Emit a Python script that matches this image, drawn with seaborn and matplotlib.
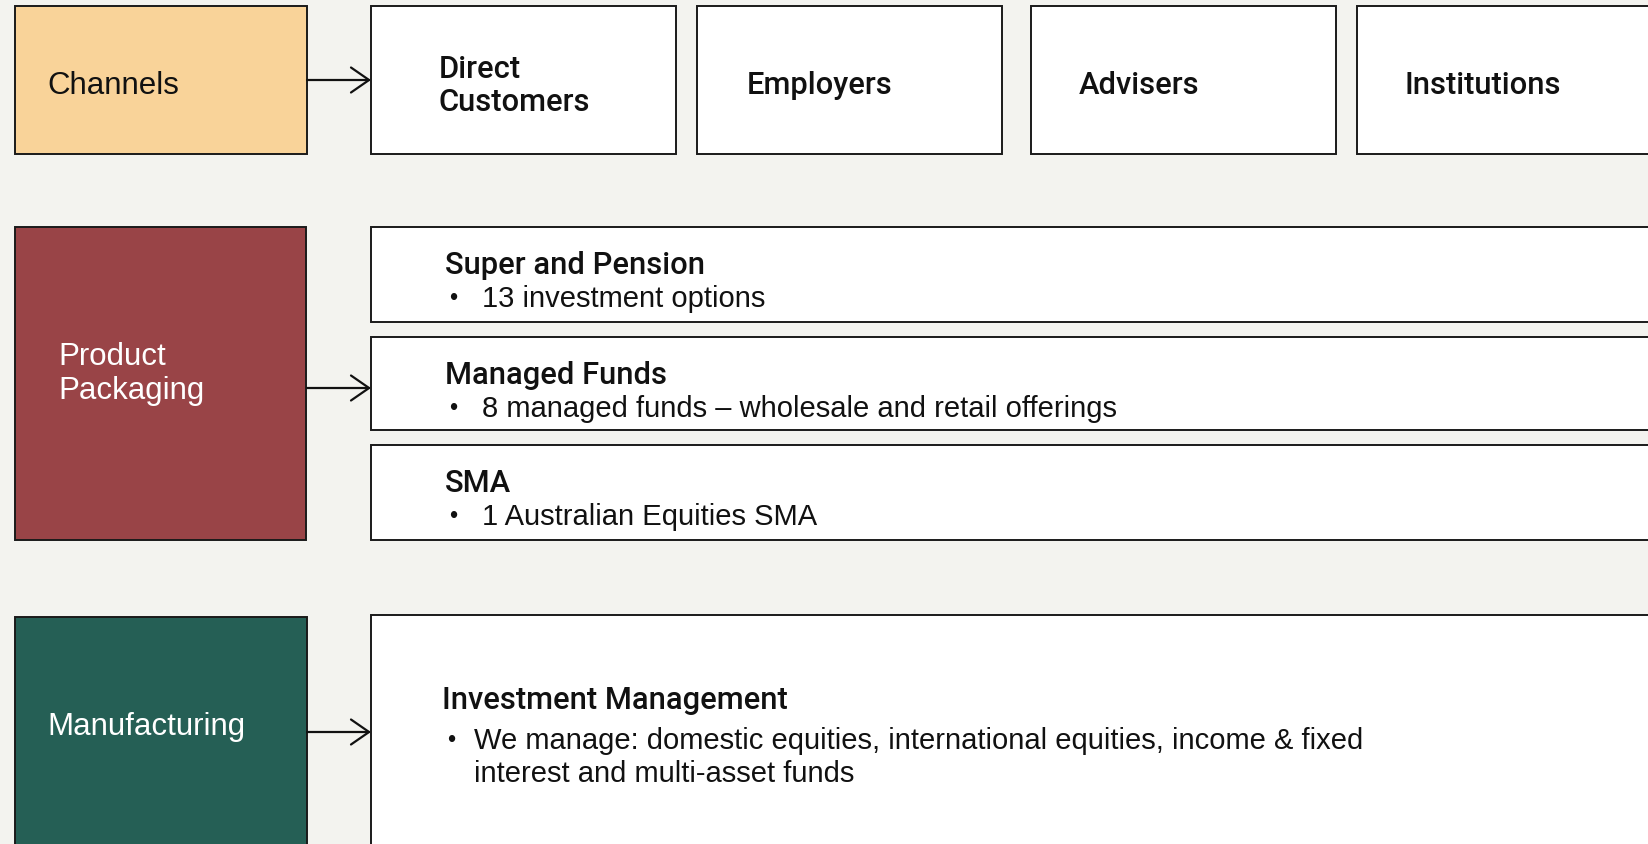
import matplotlib.pyplot as plt
from matplotlib.patches import Rectangle, FancyArrowPatch
import seaborn as sns

# labels of the diagram
stages = ["Channels", "Product\nPackaging", "Manufacturing"]
stage_colors = ["#F9D399", "#994447", "#255F55"]
stage_text_colors = ["#111111", "#FFFFFF", "#FFFFFF"]

channels = ["Direct\nCustomers", "Employers", "Advisers", "Institutions"]

products = ["Super and Pension", "Managed Funds", "SMA"]
product_points = ["13 investment options",
                  "8 managed funds \u2013 wholesale and retail offerings",
                  "1 Australian Equities SMA"]

manufacturing = "Investment Management"
manufacturing_lines = ["We manage: domestic equities, international equities, income & fixed",
                       "interest and multi-asset funds"]

# layout (pixels, y downward)
W, H = 1648, 845
stage_boxes = [(15, 7, 292, 148), (15, 228, 291, 313), (15, 618, 292, 240)]
channel_boxes = [(371, 7, 305, 148), (697, 7, 305, 148), (1031, 7, 305, 148), (1357, 7, 320, 148)]
channel_text_x = [439, 747, 1079, 1405]
product_boxes = [(371, 228, 1300, 95), (371, 338, 1300, 93), (371, 446, 1300, 95)]
manuf_box = (371, 616, 1300, 250)
arrow_y = [81, 389, 733]

sns.set_theme(style="white")
plt.rcParams['font.family'] = ['Liberation Sans', 'DejaVu Sans']

fig = plt.figure(figsize=(W / 100, H / 100), dpi=100, facecolor="#F3F3EF")
ax = fig.add_axes([0, 0, 1, 1])
ax.set_facecolor("#F3F3EF")
ax.set_xlim(0, W)
ax.set_ylim(H, 0)
ax.axis("off")

lw = 1.4
fs_stage = 22.5
fs_head = 22.2
fs_body = 21
head = dict(family=['Roboto', 'Liberation Sans', 'DejaVu Sans'], fontweight="medium")

def box(b, color="white"):
    x, y, w, h = b
    ax.add_patch(Rectangle((x, y), w, h, facecolor=color, edgecolor="#1a1a1a", lw=lw))

# left stage boxes
for b, c in zip(stage_boxes, stage_colors):
    box(b, c)
tx = [47, 58, 47]
ty = [86, 374, 727]
for lab, x, y, tc in zip(stages, tx, ty, stage_text_colors):
    ax.text(x, y, lab, color=tc, fontsize=fs_stage, va="center", ha="left", linespacing=1.15)

# arrows
for y in arrow_y:
    ax.add_patch(FancyArrowPatch((307, y), (371, y), arrowstyle="->,head_length=0.65,head_width=0.45",
                                 mutation_scale=20, lw=1.6, color="#111111", shrinkA=0, shrinkB=0))

# channels row
for b, lab, x in zip(channel_boxes, channels, channel_text_x):
    box(b)
    ax.text(x, b[1] + b[3] / 2 + 5, lab, fontsize=fs_head, va="center", ha="left",
            color="#111111", linespacing=1.15, **head)

# products
for b, title, pt in zip(product_boxes, products, product_points):
    box(b)
    y0 = b[1]
    ax.text(445, y0 + 38, title, fontsize=fs_head, va="center", ha="left", color="#111111", **head)
    ax.text(449, y0 + 71, "\u2022", fontsize=fs_body - 4, va="center", ha="left", color="#111111")
    ax.text(482, y0 + 71, pt, fontsize=fs_body, va="center", ha="left", color="#111111")

# manufacturing
box(manuf_box)
ax.text(442, 701, manufacturing, fontsize=fs_head, va="center", ha="left", color="#111111", **head)
ax.text(447, 741, "\u2022", fontsize=fs_body - 4, va="center", ha="left", color="#111111")
for i, line in enumerate(manufacturing_lines):
    ax.text(474, 741 + 33 * i, line, fontsize=fs_body, va="center", ha="left", color="#111111")

fig.savefig("out.png", dpi=100, facecolor=fig.get_facecolor())
